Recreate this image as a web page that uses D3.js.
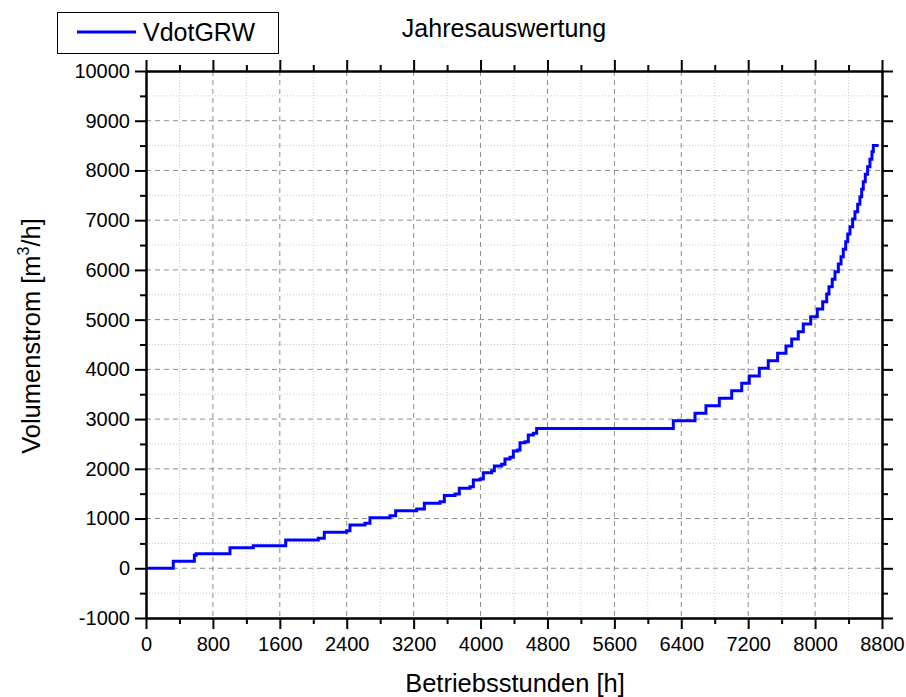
<!DOCTYPE html>
<html>
<head>
<meta charset="utf-8">
<script src="https://cdn.jsdelivr.net/npm/d3@7"></script>
<style>
  body { margin: 0; background: #fff; }
  svg text { font-family: "Liberation Sans", Arial, sans-serif; fill: #000; }
</style>
</head>
<body>
<svg id="chart"></svg>
<script>
var width = 906,
    height = 697;

// Jahresdauerlinie VdotGRW (Betriebsstunden -> Volumenstrom)
var seriesName = 'VdotGRW';
var hours = [0, 326, 578, 600, 1004, 1283, 1670, 2060, 2132, 2399, 2439, 2618, 2678, 2917, 2985,
  3236, 3328, 3515, 3567, 3695, 3746, 3874, 3914, 3993, 4033, 4133, 4165, 4253, 4292, 4352,
  4392, 4444, 4472, 4532, 4571, 4631, 4671, 6305, 6564, 6695, 6855, 7003, 7123, 7213, 7333,
  7440, 7552, 7652, 7720, 7799, 7859, 7947, 8026, 8091, 8139, 8166, 8205, 8238, 8278, 8310,
  8337, 8366, 8390, 8417, 8449, 8477, 8509, 8536, 8557, 8576, 8600, 8628, 8656, 8680, 8696, 8760];
var flows = [0, 140, 260, 290, 414, 455, 569, 603, 724, 756, 871, 905, 1018, 1058, 1158,
  1192, 1307, 1340, 1464, 1494, 1609, 1641, 1776, 1796, 1923, 1963, 2057, 2091, 2198, 2232,
  2359, 2379, 2526, 2546, 2680, 2715, 2810, 2965, 3117, 3270, 3418, 3571, 3720, 3867, 4022,
  4175, 4323, 4470, 4611, 4758, 4912, 5059, 5214, 5361, 5516, 5663, 5812, 5964, 6119, 6266,
  6415, 6568, 6722, 6869, 7024, 7171, 7320, 7472, 7621, 7774, 7923, 8076, 8225, 8377, 8500, 8500];

var xMajor = d3.range(0, 8801, 800);
var xMinor = d3.range(400, 8800, 800);
var yMajor = d3.range(-1000, 10001, 1000);
var yMinor = d3.range(-500, 10000, 1000);

var data = hours.map(function(h, i) { return {h: h, v: flows[i]}; });

var pLeft = 146, pRight = 882, pTop = 71, pBottom = 618;

var x = d3.scaleLinear().domain([0, 8800]).range([pLeft, pRight]);
var y = d3.scaleLinear().domain([-1000, 10000]).range([pBottom, pTop]);

var svg = d3.select('#chart')
    .attr('width', width)
    .attr('height', height);

// grid
var grid = svg.append('g');
grid.selectAll('.vminor').data(xMinor).enter().append('line')
  .attr('x1', function(d) { return x(d); }).attr('x2', function(d) { return x(d); })
  .attr('y1', pTop).attr('y2', pBottom)
  .attr('stroke', '#c8c8c8').attr('stroke-width', 1).attr('stroke-dasharray', '1,2');
grid.selectAll('.hminor').data(yMinor).enter().append('line')
  .attr('y1', function(d) { return y(d); }).attr('y2', function(d) { return y(d); })
  .attr('x1', pLeft).attr('x2', pRight)
  .attr('stroke', '#c8c8c8').attr('stroke-width', 1).attr('stroke-dasharray', '1,2');
grid.selectAll('.vmajor').data(xMajor.slice(1, -1)).enter().append('line')
  .attr('x1', function(d) { return x(d); }).attr('x2', function(d) { return x(d); })
  .attr('y1', pTop).attr('y2', pBottom)
  .attr('stroke', '#8c8c8c').attr('stroke-width', 1).attr('stroke-dasharray', '5,4');
grid.selectAll('.hmajor').data(yMajor.slice(1, -1)).enter().append('line')
  .attr('y1', function(d) { return y(d); }).attr('y2', function(d) { return y(d); })
  .attr('x1', pLeft).attr('x2', pRight)
  .attr('stroke', '#8c8c8c').attr('stroke-width', 1).attr('stroke-dasharray', '5,4');

// curve
var line = d3.line()
  .x(function(d) { return x(d.h); })
  .y(function(d) { return y(d.v); })
  .curve(d3.curveStepAfter);

svg.append('path')
  .datum(data)
  .attr('d', line)
  .attr('fill', 'none')
  .attr('stroke', '#0000ff')
  .attr('stroke-width', 3);

// axes
function styleAxis(g) {
  g.selectAll('path, line').attr('stroke', '#000').attr('stroke-width', 2);
  g.selectAll('text').attr('font-size', 20).attr('fill', '#000')
    .attr('font-family', '"Liberation Sans", Arial, sans-serif');
}

// plain hyphen for negatives, like the original
var fmt = function(d) { return String(d); };

svg.append('g').attr('transform', 'translate(0,' + pBottom + ')')
  .call(d3.axisBottom(x).tickValues(xMajor).tickFormat(fmt).tickSize(11).tickSizeOuter(0).tickPadding(8))
  .call(styleAxis);
svg.append('g').attr('transform', 'translate(0,' + pBottom + ')')
  .call(d3.axisBottom(x).tickValues(xMinor).tickFormat('').tickSize(6).tickSizeOuter(0))
  .call(styleAxis);

svg.append('g').attr('transform', 'translate(0,' + pTop + ')')
  .call(d3.axisTop(x).tickValues(xMajor).tickFormat('').tickSize(11).tickSizeOuter(0))
  .call(styleAxis);
svg.append('g').attr('transform', 'translate(0,' + pTop + ')')
  .call(d3.axisTop(x).tickValues(xMinor).tickFormat('').tickSize(6).tickSizeOuter(0))
  .call(styleAxis);

svg.append('g').attr('transform', 'translate(' + pLeft + ',0)')
  .call(d3.axisLeft(y).tickValues(yMajor).tickFormat(fmt).tickSize(11).tickSizeOuter(0).tickPadding(5))
  .call(styleAxis);
svg.append('g').attr('transform', 'translate(' + pLeft + ',0)')
  .call(d3.axisLeft(y).tickValues(yMinor).tickFormat('').tickSize(6).tickSizeOuter(0))
  .call(styleAxis);

svg.append('g').attr('transform', 'translate(' + pRight + ',0)')
  .call(d3.axisRight(y).tickValues(yMajor).tickFormat('').tickSize(11).tickSizeOuter(0))
  .call(styleAxis);
svg.append('g').attr('transform', 'translate(' + pRight + ',0)')
  .call(d3.axisRight(y).tickValues(yMinor).tickFormat('').tickSize(6).tickSizeOuter(0))
  .call(styleAxis);

// titles
svg.append('text')
  .text('Jahresauswertung')
  .attr('x', 504)
  .attr('y', 37)
  .attr('font-size', 25)
  .style('text-anchor', 'middle');

svg.append('text')
  .text('Betriebsstunden [h]')
  .attr('x', 515)
  .attr('y', 692)
  .attr('font-size', 25.5)
  .style('text-anchor', 'middle');

var ylab = svg.append('text')
  .attr('transform', 'translate(40,336) rotate(-90)')
  .attr('font-size', 25.5)
  .style('text-anchor', 'middle');
ylab.append('tspan').text('Volumenstrom [m');
ylab.append('tspan').text('3').attr('font-size', 16).attr('dy', -11);
ylab.append('tspan').text('/h]').attr('dy', 11);

// legend
var legend = svg.append('g');
legend.append('rect')
  .attr('x', 57.5).attr('y', 12.5)
  .attr('width', 221).attr('height', 41)
  .attr('fill', '#fff').attr('stroke', '#000').attr('stroke-width', 1);
legend.append('line')
  .attr('x1', 77).attr('x2', 136).attr('y1', 32).attr('y2', 32)
  .attr('stroke', '#0000ff').attr('stroke-width', 3);
legend.append('text')
  .text(seriesName)
  .attr('x', 143).attr('y', 41)
  .attr('font-size', 25);
</script>
</body>
</html>
